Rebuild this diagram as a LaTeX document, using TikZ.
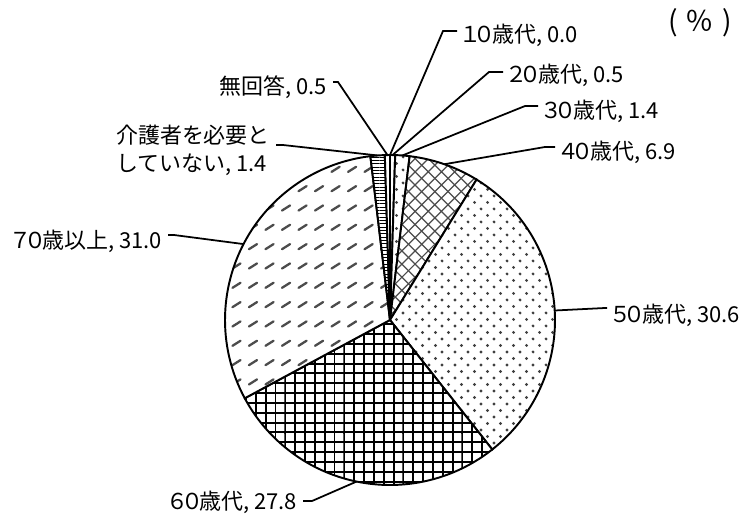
\documentclass[tikz,border=0pt]{standalone}
\usepackage{fontspec}
\setmainfont{Noto Sans CJK JP}
\usepackage{tikz}
\usetikzlibrary{patterns}

\pgfdeclarepatternformonly{pdots}{\pgfqpoint{-1pt}{-1pt}}{\pgfqpoint{8.4pt}{8.4pt}}{\pgfqpoint{7.4pt}{7.4pt}}{%
  \pgfpathcircle{\pgfqpoint{0pt}{0pt}}{0.9pt}%
  \pgfpathcircle{\pgfqpoint{3.7pt}{3.7pt}}{0.9pt}%
  \pgfusepath{fill}}
\pgfdeclarepatternformonly{pcross}{\pgfqpoint{-0.5pt}{-0.5pt}}{\pgfqpoint{8pt}{8pt}}{\pgfqpoint{7.5pt}{7.5pt}}{%
  \pgfsetlinewidth{0.7pt}%
  \pgfpathmoveto{\pgfqpoint{0pt}{0pt}}\pgfpathlineto{\pgfqpoint{7.5pt}{7.5pt}}%
  \pgfpathmoveto{\pgfqpoint{0pt}{7.5pt}}\pgfpathlineto{\pgfqpoint{7.5pt}{0pt}}%
  \pgfusepath{stroke}}
\pgfdeclarepatternformonly{pgrid}{\pgfqpoint{-0.6pt}{-0.6pt}}{\pgfqpoint{6.2pt}{6.2pt}}{\pgfqpoint{5.6pt}{5.6pt}}{%
  \pgfsetlinewidth{1.1pt}%
  \pgfpathmoveto{\pgfqpoint{-0.6pt}{0pt}}\pgfpathlineto{\pgfqpoint{6.2pt}{0pt}}%
  \pgfpathmoveto{\pgfqpoint{0pt}{-0.6pt}}\pgfpathlineto{\pgfqpoint{0pt}{6.2pt}}%
  \pgfusepath{stroke}}
\pgfdeclarepatternformonly{phl}{\pgfqpoint{0pt}{-0.4pt}}{\pgfqpoint{3pt}{0.4pt}}{\pgfqpoint{3pt}{1.9pt}}{%
  \pgfsetlinewidth{0.5pt}%
  \pgfpathmoveto{\pgfqpoint{0pt}{0pt}}\pgfpathlineto{\pgfqpoint{3pt}{0pt}}%
  \pgfusepath{stroke}}
\pgfdeclarepatternformonly{pdash}{\pgfqpoint{0pt}{0pt}}{\pgfqpoint{6.5pt}{4.6pt}}{\pgfqpoint{9.4pt}{11pt}}{%
  \pgfsetlinewidth{1.3pt}\pgfsetroundcap%
  \pgfpathmoveto{\pgfqpoint{0.7pt}{0.7pt}}\pgfpathlineto{\pgfqpoint{5.3pt}{3.6pt}}%
  \pgfusepath{stroke}}

\newcommand{\fd}[1]{\makebox[0.66em]{#1}}

\begin{document}
\begin{tikzpicture}[x=0.02cm, y=0.02cm, line width=1pt,
  lab/.style={font=\fontsize{12.5}{16}\selectfont, inner sep=0pt, inner xsep=3pt},
  wedge/.style={draw, line width=1.1pt, preaction={fill=white}},
  wwhite/.style={wedge, fill=white},
  wdot/.style={wedge, pattern=pdots, pattern color=black!75},
  wcross/.style={wedge, pattern=pcross, pattern color=black!70},
  wgrid/.style={wedge, pattern=pgrid, pattern color=black},
  wdash/.style={wedge, pattern=pdash, pattern color=black!70},
  whl/.style={wedge, pattern=phl, pattern color=black}]
\useasboundingbox (0,0) rectangle (745,-521);
\coordinate (c) at (390,-320);
\foreach \a/\b/\s in {90/88.2/wwhite, 88.2/83.17/wdot, 83.17/58.35/wcross, 58.35/-51.70/wdot,
  -51.70/-151.68/wgrid, -151.68/-263.17/wdash, -263.17/-268.2/whl, -268.2/-270/wwhite}
  \draw[\s] (c) -- ++(\a:165) arc[start angle=\a, end angle=\b, radius=165] -- cycle;

\path (c) ++(90:165) coordinate (p10);
\path (c) ++(89.1:165) coordinate (p20);
\path (c) ++(85.7:165) coordinate (p30);
\path (c) ++(70.76:165) coordinate (p40);
\path (c) ++(3.3:165) coordinate (p50);
\path (c) ++(-101.69:165) coordinate (p60);
\path (c) ++(152.6:165) coordinate (p70);
\path (c) ++(94.3:165) coordinate (pkaigo);
\path (c) ++(90.9:165) coordinate (pnone);

\coordinate (e10) at (443,-31);
\coordinate (e20) at (489,-72);
\coordinate (e30) at (525,-106);
\coordinate (e40) at (545,-147);
\coordinate (e50) at (605,-308);
\coordinate (e60) at (312,-501);
\coordinate (e70) at (174,-235);
\coordinate (ekaigo) at (283,-145);
\coordinate (enone) at (338,-82);

\node[lab, anchor=west] (l10) at (457,-35) {\fd{１}\fd{０}歳代, 0.0};
\node[lab, anchor=west] (l20) at (503,-75) {\fd{２}\fd{０}歳代, 0.5};
\node[lab, anchor=west] (l30) at (538,-111) {\fd{３}\fd{０}歳代, 1.4};
\node[lab, anchor=west] (l40) at (555,-152) {\fd{４}\fd{０}歳代, 6.9};
\node[lab, anchor=west] (l50) at (607,-315) {\fd{５}\fd{０}歳代, 30.6};
\node[lab, anchor=east] (l60) at (303,-502) {\fd{６}\fd{０}歳代, 27.8};
\node[lab, anchor=east] (l70) at (168,-241) {\fd{７}\fd{０}歳以上, 31.0};
\node[lab, anchor=west, align=left] (lkaigo) at (110,-150) {介護者を必要と\\していない, 1.4};
\node[lab, anchor=east] (lnone) at (333,-87) {無回答, 0.5};
\node[lab, inner xsep=0pt, font=\fontsize{16}{18}\selectfont] (pct) at (700,-23) {(\hspace{0.3em}％\hspace{0.3em})};

\foreach \n in {10,20,30,40,50}
  \draw (p\n) -- (e\n) -- (e\n -| l\n.west);
\foreach \n in {60,70,kaigo,none}
  \draw (p\n) -- (e\n) -- (e\n -| l\n.east);
\end{tikzpicture}
\end{document}
